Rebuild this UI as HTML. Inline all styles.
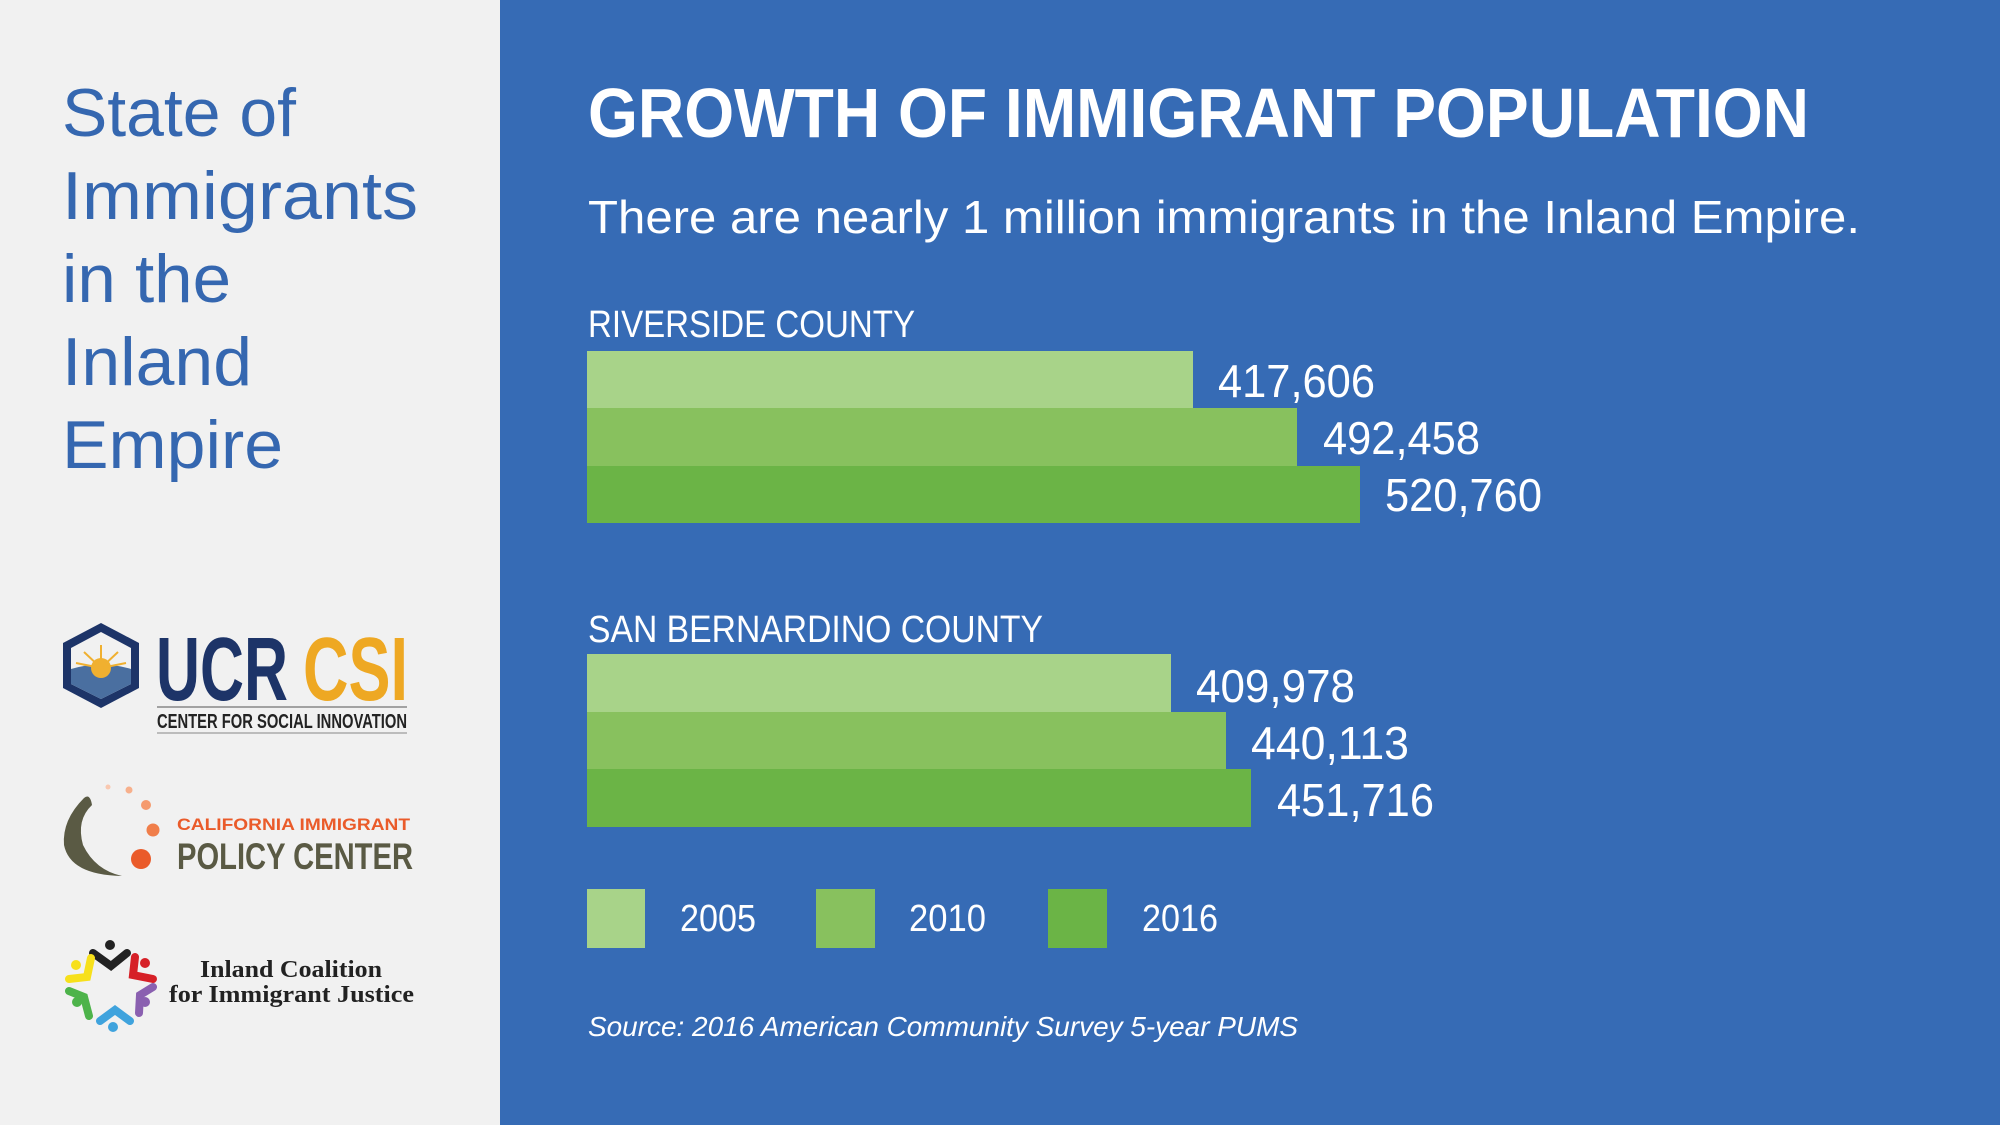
<!DOCTYPE html>
<html><head><meta charset="utf-8"><style>
html,body{margin:0;padding:0;}
body{width:2000px;height:1125px;overflow:hidden;}
svg{display:block;}
</style></head><body>
<svg width="2000" height="1125" viewBox="0 0 2000 1125" xmlns="http://www.w3.org/2000/svg">
<rect x="0" y="0" width="500" height="1125" fill="#f1f1f1"/>
<rect x="500" y="0" width="1500" height="1125" fill="#366bb5"/>
<g font-family="Liberation Sans, sans-serif" fill="#3567b0" font-size="68">
<text x="62" y="136" textLength="234" lengthAdjust="spacingAndGlyphs">State of</text>
<text x="62" y="219" textLength="356" lengthAdjust="spacingAndGlyphs">Immigrants</text>
<text x="62" y="302" textLength="169" lengthAdjust="spacingAndGlyphs">in the</text>
<text x="62" y="385" textLength="190" lengthAdjust="spacingAndGlyphs">Inland</text>
<text x="62" y="468" textLength="221" lengthAdjust="spacingAndGlyphs">Empire</text>
</g>
<!-- UCR CSI -->
<polygon points="101,623 139,643 139,688 101,708 63,688 63,643" fill="#1d3468"/>
<polygon points="101,632 131,648 131,684 101,699 71,684 71,648" fill="#f1f1f1"/>
<path d="M71,669 Q101,660 131,669 L131,684 101,699 71,684Z" fill="#4a6fa0"/>
<circle cx="101" cy="668" r="10" fill="#f0b030"/>
<g stroke="#f0b030" stroke-width="2"><line x1="101" y1="668" x2="101" y2="645"/><line x1="101" y1="668" x2="84" y2="652"/><line x1="101" y1="668" x2="118" y2="652"/><line x1="101" y1="668" x2="76" y2="663"/><line x1="101" y1="668" x2="126" y2="663"/></g>
<text x="156" y="700" font-family="Liberation Sans, sans-serif" font-weight="bold" font-size="90" fill="#1d3468" textLength="132" lengthAdjust="spacingAndGlyphs">UCR</text>
<text x="303" y="700" font-family="Liberation Sans, sans-serif" font-weight="bold" font-size="90" fill="#eea823" textLength="105" lengthAdjust="spacingAndGlyphs">CSI</text>
<line x1="157" y1="707" x2="407" y2="707" stroke="#888" stroke-width="1.5"/>
<text x="157" y="728" font-family="Liberation Sans, sans-serif" font-weight="bold" font-size="20" fill="#222" textLength="250" lengthAdjust="spacingAndGlyphs">CENTER FOR SOCIAL INNOVATION</text>
<line x1="157" y1="733" x2="407" y2="733" stroke="#aaa" stroke-width="1.5"/>
<!-- CIPC -->
<path d="M84,798 Q62,820 64,845 Q70,875 122,876 Q95,870 83,845 Q76,820 92,805 Q90,793 84,798Z" fill="#5a5a44"/>
<circle cx="108" cy="787" r="2.5" fill="#f9c8b0"/>
<circle cx="129" cy="790" r="3.5" fill="#f7b08c"/>
<circle cx="146" cy="805" r="5" fill="#f59a6d"/>
<circle cx="153" cy="830" r="6.5" fill="#f07e4a"/>
<circle cx="141" cy="859" r="10" fill="#ea5b2a"/>
<text x="177" y="830" font-family="Liberation Sans, sans-serif" font-weight="bold" font-size="17" fill="#ea5b2a" textLength="233" lengthAdjust="spacingAndGlyphs">CALIFORNIA IMMIGRANT</text>
<text x="177" y="869" font-family="Liberation Sans, sans-serif" font-weight="bold" font-size="37" fill="#5a5a44" textLength="236" lengthAdjust="spacingAndGlyphs">POLICY CENTER</text>
<!-- ICIJ -->
<g stroke-width="8" stroke-linecap="round" fill="none">
<path d="M93,953 L111,966 L127,953" stroke="#222"/>
<path d="M135,957 L133,975 L153,979" stroke="#d62027"/>
<path d="M153,987 L140,995 L139,1013" stroke="#8a60b0"/>
<path d="M130,1021 L115,1010 L100,1021" stroke="#3fa3dd"/>
<path d="M89,1016 L84,997 L69,991" stroke="#4db34a"/>
<path d="M69,979 L87,977 L91,958" stroke="#f7e01b"/>
</g>
<circle cx="110" cy="945" r="5" fill="#222"/><circle cx="145" cy="963" r="5" fill="#d62027"/>
<circle cx="145" cy="1002" r="5" fill="#8a60b0"/><circle cx="113" cy="1027" r="5" fill="#3fa3dd"/>
<circle cx="77" cy="1002" r="5" fill="#4db34a"/><circle cx="76" cy="965" r="5" fill="#f7e01b"/>
<g font-family="Liberation Serif, serif" font-weight="bold" font-size="24" fill="#222">
<text x="200" y="977" textLength="182" lengthAdjust="spacingAndGlyphs">Inland Coalition</text>
<text x="169" y="1002" textLength="245" lengthAdjust="spacingAndGlyphs">for Immigrant Justice</text>
</g>
<!-- right panel -->
<g font-family="Liberation Sans, sans-serif" fill="#fff">
<text x="588" y="137" font-weight="bold" font-size="70" textLength="1221" lengthAdjust="spacingAndGlyphs">GROWTH OF IMMIGRANT POPULATION</text>
<text x="588" y="233" font-size="46" textLength="1272" lengthAdjust="spacingAndGlyphs">There are nearly 1 million immigrants in the Inland Empire.</text>
<text x="588" y="337" font-size="38" textLength="327" lengthAdjust="spacingAndGlyphs">RIVERSIDE COUNTY</text>
<text x="588" y="642" font-size="38" textLength="455" lengthAdjust="spacingAndGlyphs">SAN BERNARDINO COUNTY</text>
</g>
<rect x="587" y="351" width="606" height="57" fill="#a8d389"/>
<rect x="587" y="408" width="710" height="58" fill="#88c15e"/>
<rect x="587" y="466" width="773" height="57" fill="#6bb446"/>
<rect x="587" y="654" width="584" height="58" fill="#a8d389"/>
<rect x="587" y="712" width="639" height="57" fill="#88c15e"/>
<rect x="587" y="769" width="664" height="58" fill="#6bb446"/>
<g font-family="Liberation Sans, sans-serif" fill="#fff" font-size="46">
<text x="1218" y="397" textLength="157" lengthAdjust="spacingAndGlyphs">417,606</text>
<text x="1323" y="454" textLength="157" lengthAdjust="spacingAndGlyphs">492,458</text>
<text x="1385" y="511" textLength="157" lengthAdjust="spacingAndGlyphs">520,760</text>
<text x="1196" y="702" textLength="159" lengthAdjust="spacingAndGlyphs">409,978</text>
<text x="1251" y="759" textLength="158" lengthAdjust="spacingAndGlyphs">440,113</text>
<text x="1277" y="816" textLength="157" lengthAdjust="spacingAndGlyphs">451,716</text>
</g>
<rect x="587" y="889" width="58" height="59" fill="#a8d389"/>
<rect x="816" y="889" width="59" height="59" fill="#88c15e"/>
<rect x="1048" y="889" width="59" height="59" fill="#6bb446"/>
<g font-family="Liberation Sans, sans-serif" fill="#fff" font-size="38">
<text x="680" y="931" textLength="76" lengthAdjust="spacingAndGlyphs">2005</text>
<text x="909" y="931" textLength="77" lengthAdjust="spacingAndGlyphs">2010</text>
<text x="1142" y="931" textLength="76" lengthAdjust="spacingAndGlyphs">2016</text>
<text x="588" y="1036" font-size="28" font-style="italic" textLength="710" lengthAdjust="spacingAndGlyphs">Source: 2016 American Community Survey 5-year PUMS</text>
</g>
</svg>
</body></html>
